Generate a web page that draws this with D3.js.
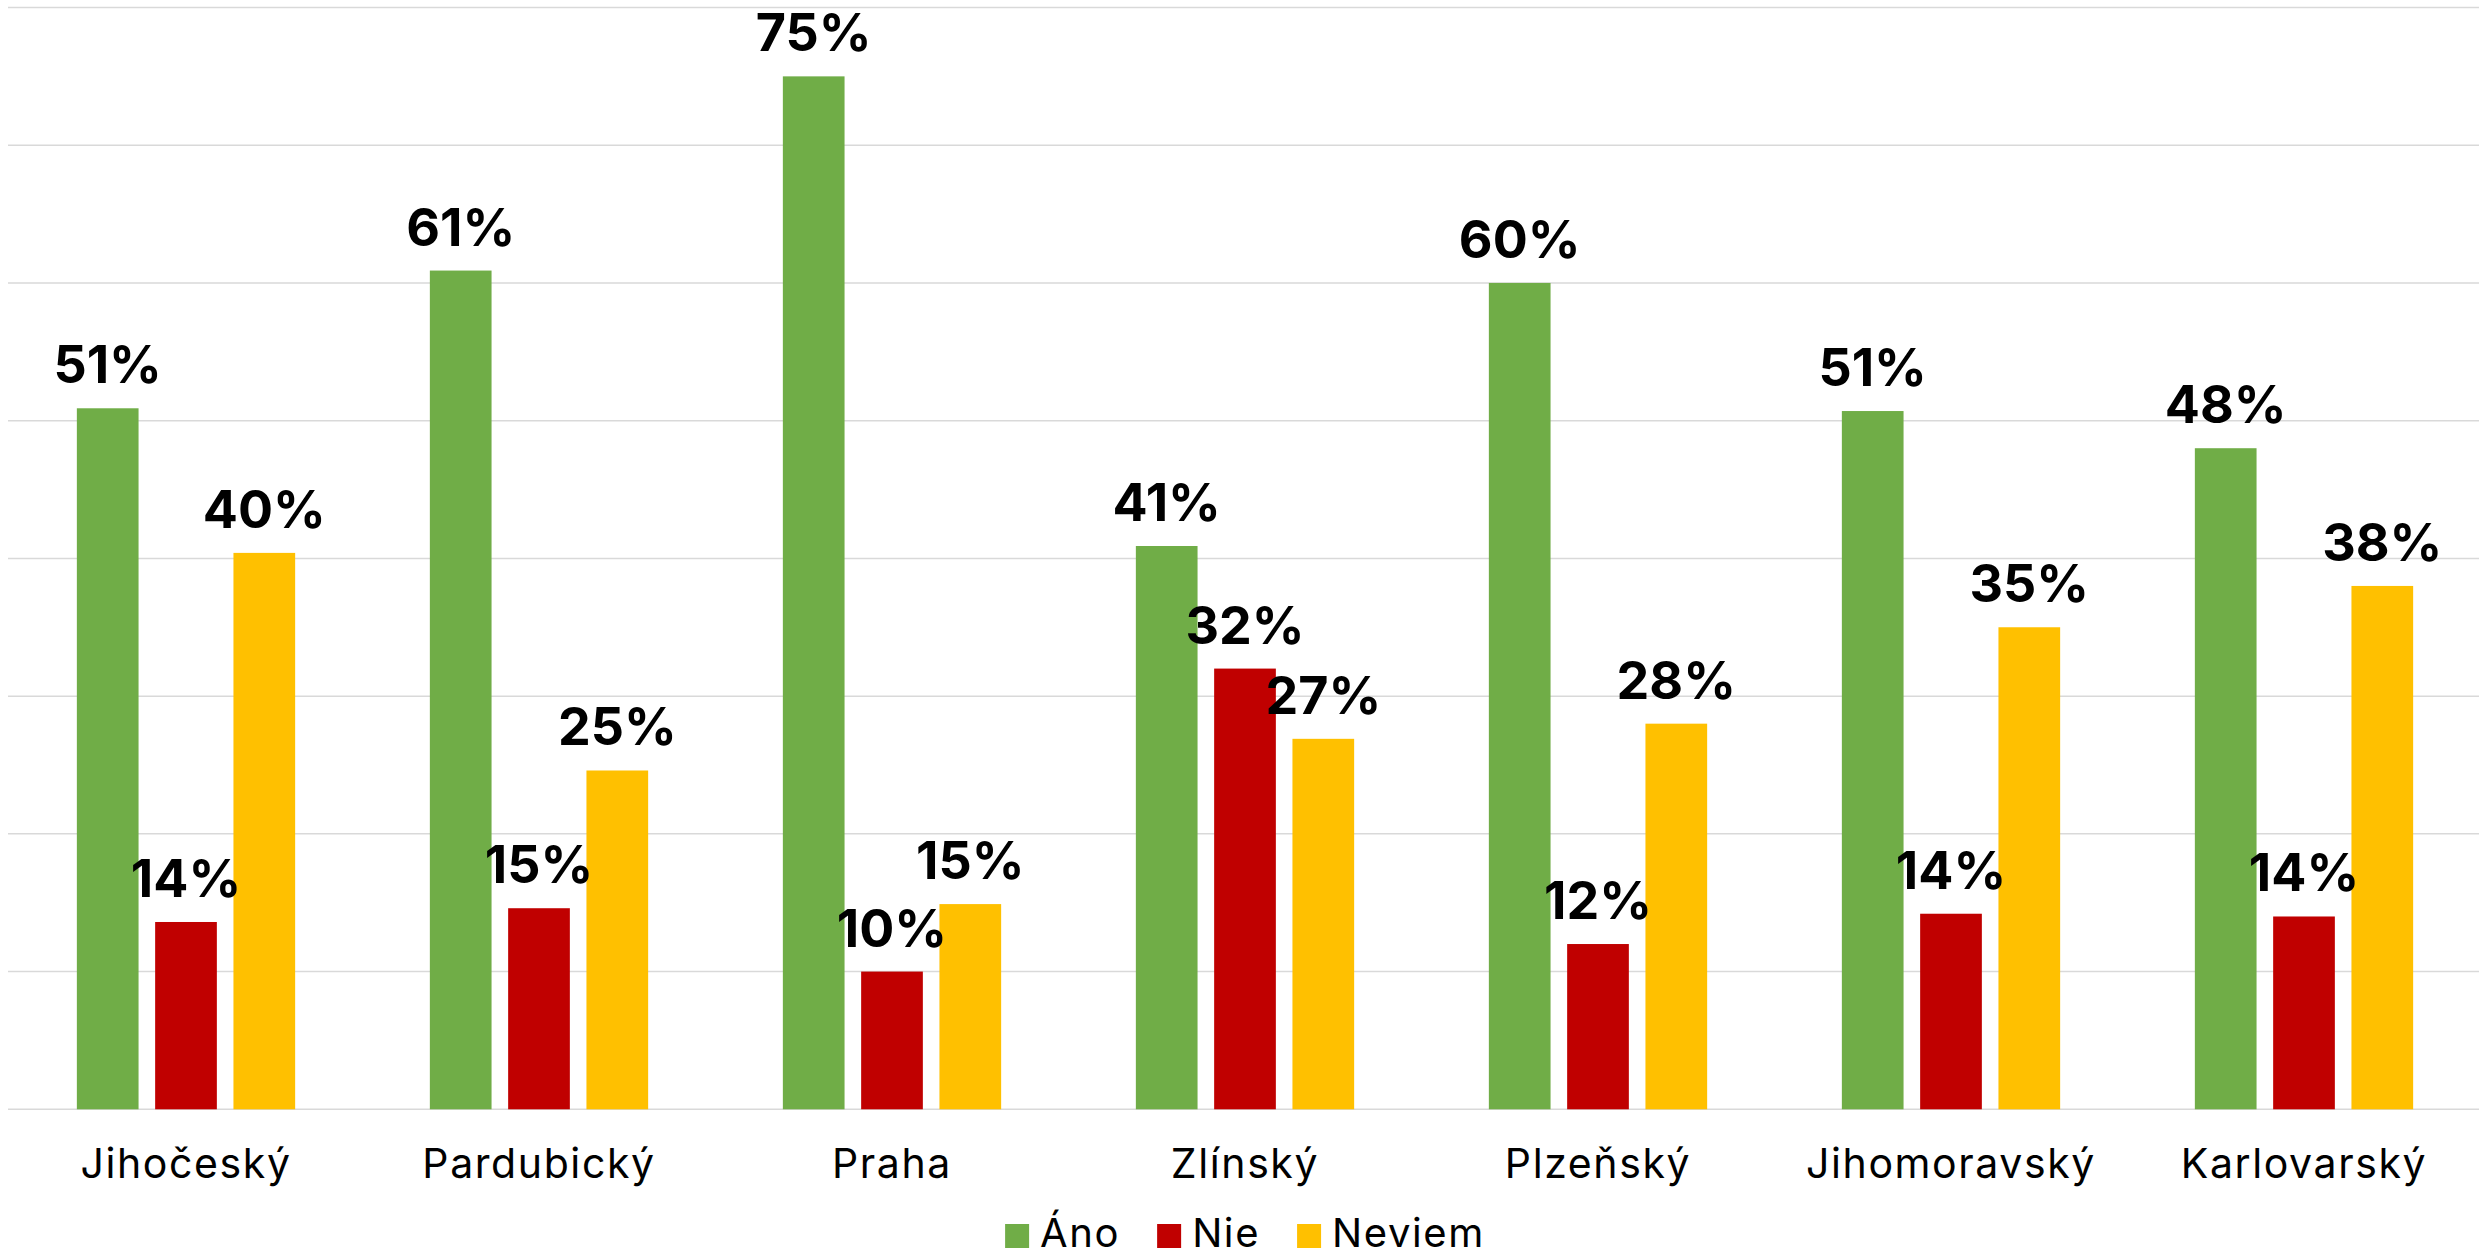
<!DOCTYPE html>
<html>
<head>
<meta charset="utf-8">
<script src="https://cdn.jsdelivr.net/npm/d3@7"></script>
<style>
  html, body { margin: 0; padding: 0; background: #fff; }
  svg { display: block; }
</style>
</head>
<body>
<div id="vis"></div>
<script>

var regions = ['Jihočeský', 'Pardubický', 'Praha', 'Zlínský', 'Plzeňský', 'Jihomoravský', 'Karlovarský'];
var seriesNames = ['Áno', 'Nie', 'Neviem'];

// values in %
var ano    = [50.9, 60.9, 75.0, 40.9, 60.0, 50.7, 48.0];
var nie    = [13.6, 14.6, 10.0, 32.0, 12.0, 14.2, 14.0];
var neviem = [40.4, 24.6, 14.9, 26.9, 28.0, 35.0, 38.0];

var yTicks = [0, 10, 20, 30, 40, 50, 60, 70, 80];

var width = 2479;
var height = 1258;

var plot = { left: 9.5, right: 2480.5, top: 7.5, bottom: 1109.3 };

var fillColor = d3.scaleOrdinal()
    .domain(seriesNames)
    .range(['#70AD47', '#C00000', '#FFC000']);

var rows = regions.map(function (r, i) {
    return { region: r, values: [
        { key: 'Áno', value: ano[i] },
        { key: 'Nie', value: nie[i] },
        { key: 'Neviem', value: neviem[i] }
    ]};
});

var x0 = d3.scaleBand()
    .domain(regions)
    .range([plot.left, plot.right])
    .paddingInner(0)
    .paddingOuter(0);

// bars take about 218px of each 353px category
var groupW = 218.3;
var x1 = d3.scaleBand()
    .domain(seriesNames)
    .range([0, groupW])
    .paddingInner(0.212)
    .paddingOuter(0);

var y = d3.scaleLinear()
    .domain([0, 80])
    .range([plot.bottom, plot.top]);

var svg = d3.select('#vis')
    .append('svg')
    .attr('width', width)
    .attr('height', height);

// gridlines
svg.append('g')
    .attr('class', 'grid')
    .selectAll('line')
    .data(yTicks)
    .enter().append('line')
    .attr('x1', plot.left - 1.5)
    .attr('x2', width)
    .attr('y1', function (d) { return y(d); })
    .attr('y2', function (d) { return y(d); })
    .attr('stroke', '#d9d9d9')
    .attr('stroke-width', 1.5);

var groups = svg.selectAll('.group')
    .data(rows)
    .enter().append('g')
    .attr('class', 'group')
    .attr('transform', function (d) {
        return 'translate(' + (x0(d.region) + (x0.bandwidth() - groupW) / 2) + ',0)';
    });

groups.selectAll('rect')
    .data(function (d) { return d.values; })
    .enter().append('rect')
    .attr('x', function (d) { return x1(d.key); })
    .attr('y', function (d) { return y(d.value); })
    .attr('width', x1.bandwidth())
    .attr('height', function (d) { return y(0) - y(d.value); })
    .attr('fill', function (d) { return fillColor(d.key); });

// labels drawn after every bar so they sit on top
var fmt = d3.format('.0f');
var labelLayer = svg.append('g');
rows.forEach(function (row) {
    var gx = x0(row.region) + (x0.bandwidth() - groupW) / 2;
    row.values.forEach(function (d) {
        labelLayer.append('text')
            .attr('x', gx + x1(d.key) + x1.bandwidth() / 2)
            .attr('y', y(d.value) - 25)
            .attr('text-anchor', 'middle')
            .attr('font-family', 'Inter, sans-serif')
            .attr('font-weight', 700)
            .attr('font-size', 52)
            .attr('fill', '#000')
            .text(fmt(d.value) + '%');
    });
});

// category labels
svg.append('g')
    .selectAll('text')
    .data(regions)
    .enter().append('text')
    .attr('x', function (d) { return x0(d) + x0.bandwidth() / 2; })
    .attr('y', 1178)
    .attr('text-anchor', 'middle')
    .attr('font-family', 'Inter, sans-serif')
    .attr('font-size', 41)
    .attr('letter-spacing', 1.6)
    .attr('fill', '#000')
    .text(function (d) { return d; });

// legend
var legend = svg.append('g');
var lx = 0;
seriesNames.forEach(function (name, i) {
    var item = legend.append('g').attr('transform', 'translate(' + lx + ',0)');
    item.append('rect')
        .attr('x', 0)
        .attr('y', 1224)
        .attr('width', 24)
        .attr('height', 24)
        .attr('fill', fillColor(name));
    var t = item.append('text')
        .attr('x', 35)
        .attr('y', 1247)
        .attr('font-family', 'Inter, sans-serif')
        .attr('font-size', 40)
        .attr('letter-spacing', 1.6)
        .attr('fill', '#000')
        .text(name);
    lx += 35 + t.node().getComputedTextLength() + 37;
});
var legendW = lx - 37;
legend.attr('transform', 'translate(' + ((plot.left + plot.right) / 2 - legendW / 2) + ',0)');

</script>
</body>
</html>
